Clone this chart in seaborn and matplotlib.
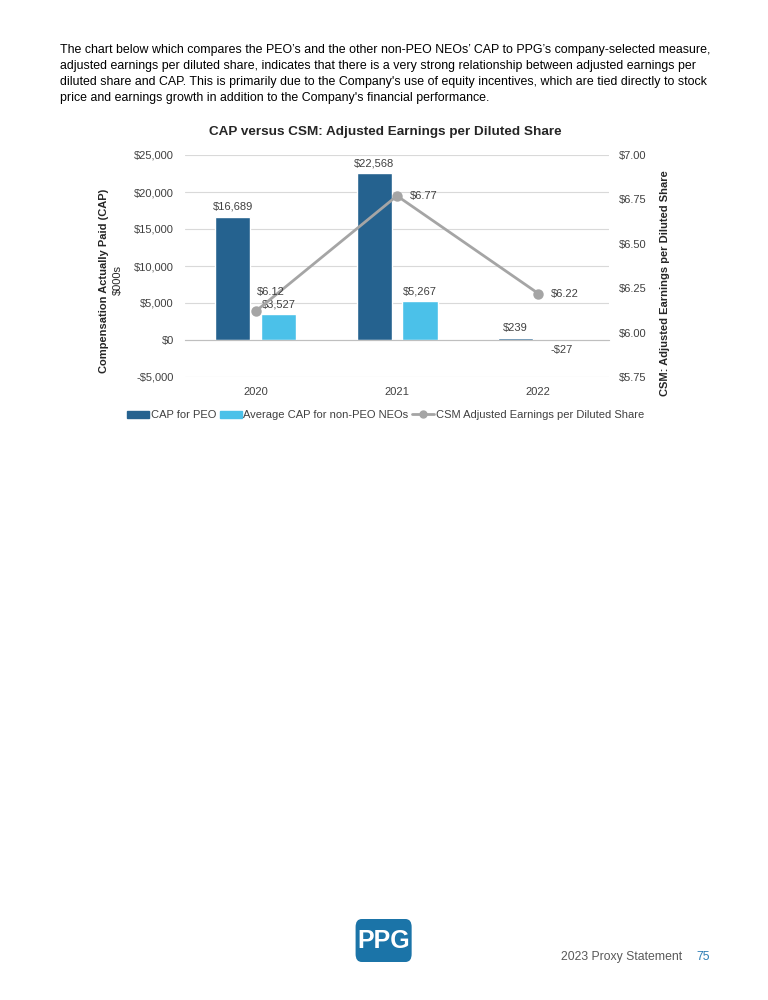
import pandas as pd
import matplotlib.pyplot as plt
import seaborn as sns
from matplotlib.patches import FancyBboxPatch, Patch
from matplotlib.lines import Line2D

# Datos
years = ["2020", "2021", "2022"]
cap_peo = [16689, 22568, 239]
cap_neo = [3527, 5267, -27]
csm_eps = [6.12, 6.77, 6.22]
series_names = ["CAP for PEO", "Average CAP for non-PEO NEOs"]
line_name = "CSM Adjusted Earnings per Diluted Share"
left_ticks = [-5000, 0, 5000, 10000, 15000, 20000, 25000]
right_ticks = [5.75, 6.00, 6.25, 6.50, 6.75, 7.00]

intro = [
    "The chart below which compares the PEO\u2019s and the other non-PEO NEOs\u2019 CAP to PPG\u2019s company-selected measure,",
    "adjusted earnings per diluted share, indicates that there is a very strong relationship between adjusted earnings per",
    "diluted share and CAP. This is primarily due to the Company's use of equity incentives, which are tied directly to stock",
    "price and earnings growth in addition to the Company's financial performance.",
]

PEO_COLOR = "#25628F"
NEO_COLOR = "#4BC1E9"
LINE_COLOR = "#A5A5A5"
TXT = "#404040"

df = pd.DataFrame({
    "year": years * 2,
    "serie": [series_names[0]] * 3 + [series_names[1]] * 3,
    "cap": cap_peo + cap_neo,
})
df_eps = pd.DataFrame({"year": years, "eps": csm_eps})

sns.set_style("white")
plt.rcParams["font.family"] = ["Liberation Sans", "DejaVu Sans"]

fig = plt.figure(figsize=(7.68, 10), dpi=100)
ax = fig.add_axes([0.2409, 0.623, 0.5521, 0.222])

sns.barplot(data=df, x="year", y="cap", hue="serie", order=years,
            palette={series_names[0]: PEO_COLOR, series_names[1]: NEO_COLOR},
            width=0.65, gap=0.237, saturation=1, legend=False, ax=ax)

ax.set_ylim(left_ticks[0], left_ticks[-1])
ax.set_yticks(left_ticks)
ax.set_yticklabels([f"-${abs(v):,}" if v < 0 else f"${v:,}" for v in left_ticks])
ax.yaxis.grid(True, color="#D9D9D9", linewidth=0.8)
ax.set_axisbelow(True)
for s in ["top", "right", "left"]:
    ax.spines[s].set_visible(False)
ax.spines["bottom"].set_position(("data", 0))
ax.spines["bottom"].set_color("#BFBFBF")
ax.set_xlim(-0.5, 2.5)
ax.set_xticks([-0.5, 0.5, 1.5, 2.5], minor=True)
ax.tick_params(axis="x", which="minor", length=4, color="#BFBFBF", direction="out")
ax.tick_params(axis="x", which="major", length=0, pad=34, labelsize=8, labelcolor=TXT)
ax.tick_params(axis="y", length=0, labelsize=8, labelcolor=TXT, pad=8)
ax.set_xlabel("")
ax.set_ylabel("")

# Etiquetas de barras
for cont, vals in zip(ax.containers, [cap_peo, cap_neo]):
    labs = [f"-${abs(v):,}" if v < 0 else f"${v:,}" for v in vals]
    ax.bar_label(cont, labels=labs, padding=3.5, fontsize=8, color=TXT)

# Eje derecho: EPS
ax2 = ax.twinx()
sns.pointplot(data=df_eps, x="year", y="eps", order=years, color=LINE_COLOR,
              markers="o", markersize=6, linewidth=2, ax=ax2)
ax2.set_ylim(right_ticks[0], right_ticks[-1])
ax2.set_yticks(right_ticks)
ax2.set_yticklabels([f"${v:.2f}" for v in right_ticks])
ax2.tick_params(axis="y", length=0, labelsize=8, labelcolor=TXT, pad=7)
ax2.set_xlim(-0.5, 2.5)
ax2.set_ylabel("")
ax2.set_xlabel("")
for s in ax2.spines.values():
    s.set_visible(False)

eps_offsets = [(11, 14), (19, 0), (19, 0)]
for i, (v, off) in enumerate(zip(csm_eps, eps_offsets)):
    ax2.annotate(f"${v:.2f}", (i, v), xytext=off, textcoords="offset points",
                 ha="center", va="center", fontsize=8, color=TXT)

# Títulos
fig.text(0.502, 0.868, "CAP versus CSM: Adjusted Earnings per Diluted Share",
         ha="center", va="center", fontsize=9.7, fontweight="bold", color="#262626")
fig.text(0.1355, 0.719, "Compensation Actually Paid (CAP)", rotation=90,
         ha="center", va="center", fontsize=8, fontweight="bold", color="#262626")
fig.text(0.1535, 0.720, "$000s", rotation=90, ha="center", va="center",
         fontsize=8, color="#262626")
fig.text(0.8665, 0.717, "CSM: Adjusted Earnings per Diluted Share", rotation=90,
         ha="center", va="center", fontsize=8, fontweight="bold", color="#262626")

# Leyenda
handles = [Patch(color=PEO_COLOR), Patch(color=NEO_COLOR),
           Line2D([], [], color=LINE_COLOR, linewidth=2, marker="o", markersize=5)]
fig.legend(handles, series_names + [line_name], loc="center", ncol=3,
           bbox_to_anchor=(0.502, 0.585), frameon=False, fontsize=8,
           handlelength=2.0, handleheight=0.6, handletextpad=0.15,
           columnspacing=0.3, labelcolor=TXT)

# Texto introductorio
for k, line in enumerate(intro):
    fig.text(0.078, 0.9495 - k * 0.0157, line, ha="left", va="center",
             fontsize=8.9, color="#000000")

# Logo y pie de página
logo = FancyBboxPatch((0.463, 0.038), 0.073, 0.043,
                      boxstyle="round,pad=0,rounding_size=0.008",
                      transform=fig.transFigure, facecolor="#1B74A8",
                      edgecolor="none")
fig.patches.append(logo)
fig.text(0.4995, 0.0585, "PPG", ha="center", va="center", fontsize=18,
         fontweight="bold", color="white", family="Liberation Sans")
fig.text(0.888, 0.043, "2023 Proxy Statement", ha="right", va="center",
         fontsize=8.8, color="#595959")
fig.text(0.907, 0.043, "75", ha="left", va="center", fontsize=8.8,
         color="#2E7DB5")

plt.savefig("out.png", dpi=100)
plt.close()
